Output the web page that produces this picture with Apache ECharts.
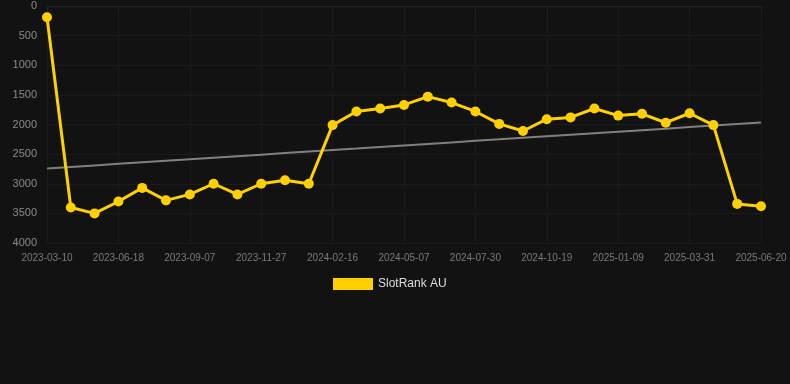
<!DOCTYPE html>
<html>
<head>
<meta charset="utf-8">
<script src="https://cdn.jsdelivr.net/npm/echarts@6/dist/echarts.min.js"></script>
<style>
  html, body { margin: 0; padding: 0; background: #121212; }
  #chart { width: 790px; height: 384px; }
</style>
</head>
<body>
<div id="chart"></div>
<script>
var dates = ['2023-03-10','2023-04-12','2023-05-15','2023-06-18','2023-07-15','2023-08-10',
  '2023-09-07','2023-10-04','2023-10-30','2023-11-27','2023-12-24','2024-01-20',
  '2024-02-16','2024-03-14','2024-04-10','2024-05-07','2024-06-04','2024-07-02',
  '2024-07-30','2024-08-26','2024-09-22','2024-10-19','2024-11-15','2024-12-12',
  '2025-01-09','2025-02-05','2025-03-04','2025-03-31','2025-04-27','2025-05-24','2025-06-20'];
var ranks = [190,3400,3500,3300,3070,3280,3180,3000,3180,3000,2940,3000,
  2010,1780,1730,1670,1530,1630,1780,1990,2110,1910,1880,1730,
  1850,1820,1970,1810,2010,3340,3380];

// least squares trend over the series
var n = ranks.length, sx = 0, sy = 0, sxy = 0, sxx = 0;
ranks.forEach(function (v, i) { sx += i; sy += v; sxy += i * v; sxx += i * i; });
var slope = (n * sxy - sx * sy) / (n * sxx - sx * sx);
var icpt = (sy - slope * sx) / n;
var trend = ranks.map(function (v, i) { return Math.round(icpt + slope * i); });

var chart = echarts.init(document.getElementById('chart'));
chart.setOption({
  backgroundColor: '#121212',
  animation: false,
  grid: { left: 47, right: 29, top: 6, bottom: 141, containLabel: false },
  legend: {
    top: 273,
    left: 328,
    itemWidth: 40,
    itemHeight: 12,
    itemGap: 6,
    icon: 'rect',
    data: ['SlotRank AU'],
    textStyle: { color: '#dddddd', fontSize: 12 }
  },
  xAxis: {
    type: 'category',
    data: dates,
    boundaryGap: false,
    axisLine: { show: true, lineStyle: { color: '#232323' } },
    axisTick: { show: true, interval: 2, lineStyle: { color: '#232323' } },
    axisLabel: { interval: 2, color: '#7a7a7a', fontSize: 10, margin: 10 },
    splitLine: { show: true, interval: 2, lineStyle: { color: '#1a1a1a' } }
  },
  yAxis: {
    type: 'value',
    inverse: true,
    min: 0,
    max: 4000,
    interval: 500,
    axisLine: { show: false },
    axisTick: { show: false },
    axisLabel: { color: '#8a8a8a', fontSize: 11, margin: 10, formatter: function (v) { return String(v); } },
    splitLine: { lineStyle: { color: '#1c1c1c' } }
  },
  series: [
    {
      name: 'SlotRank AU',
      type: 'line',
      data: ranks,
      color: '#FFD000',
      symbol: 'circle',
      symbolSize: 10,
      lineStyle: { width: 3 },
      z: 3
    },
    {
      name: 'trend',
      type: 'line',
      data: trend,
      symbol: 'none',
      color: '#808080',
      lineStyle: { width: 2, color: '#808080' },
      z: 2
    }
  ]
});
</script>
</body>
</html>
